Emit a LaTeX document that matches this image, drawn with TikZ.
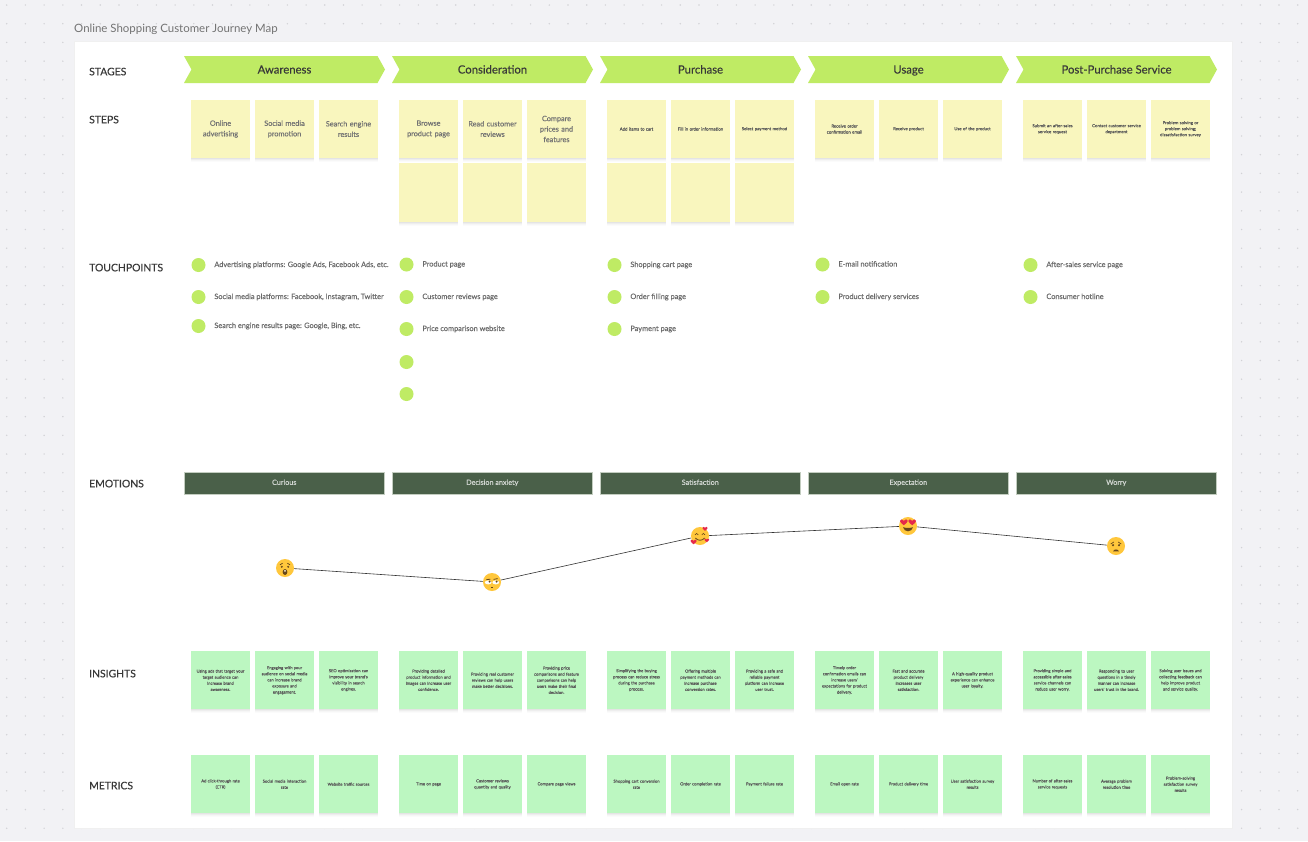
\documentclass[tikz,border=0pt]{standalone}
\usepackage{fontspec}
\setmainfont{Lato}
\newfontfamily\medfont{Lato}[FakeBold=0.3]
\newfontfamily\tinyfont{Lato}[FakeBold=0.15]
\usepackage{xcolor}
\usetikzlibrary{positioning}
\usetikzlibrary{shapes.symbols}

\definecolor{paper}{HTML}{F2F2F5}
\definecolor{griddot}{HTML}{D2D2D6}
\definecolor{lime}{HTML}{BFEB64}
\definecolor{noteyellow}{HTML}{F9F6BE}
\definecolor{notegreen}{HTML}{BCF7C1}
\definecolor{darkmoss}{HTML}{4A6049}
\definecolor{mossedge}{HTML}{C3CDC0}
\definecolor{face}{HTML}{FFC73C}
\definecolor{heartred}{HTML}{E5294A}
\definecolor{facedark}{HTML}{66471B}
\definecolor{inkgray}{HTML}{5C5C5C}

\newcommand{\fsz}[1]{\fontsize{#1}{14}\selectfont}

\tikzset{
    heart/.pic={
        \fill[heartred] (0,1.6) .. controls (-1,0.7) and (-2.4,-0.2) .. (-2.4,-1)
            .. controls (-2.4,-2.2) and (-0.6,-2.4) .. (0,-1.1)
            .. controls (0.6,-2.4) and (2.4,-2.2) .. (2.4,-1)
            .. controls (2.4,-0.2) and (1,0.7) .. (0,1.6) -- cycle;
    },
    facesurprised/.pic={
        \fill[facedark] (-3.2,-1.2) circle (1.1) (3.2,-1.2) circle (1.1);
        \draw[facedark,line width=.7] (-5,-3.2) -- (-2.4,-4.8) (5,-3.2) -- (2.4,-4.8);
        \fill[facedark] (0,4) ellipse (2.4 and 3);
        \fill[white!85!face] (0,2.9) ellipse (1.1 and .9);
    },
    facesmug/.pic={
        \fill[white] (-3.8,.4) ellipse (3.4 and 2) (3.8,.4) ellipse (3.4 and 2);
        \fill[facedark] (-2.4,-.4) circle (1.1) (4.6,-.4) circle (1.1);
        \draw[facedark,line width=.8] (-5.6,-2.4) -- (-1.6,-2.8) (5.6,-3.4) -- (1.6,-2.6);
        \draw[facedark,line width=.5] (-1.2,5.4) -- (1.2,5.4);
    },
    facesmiling/.pic={
        \draw[facedark,line width=.6] (-5,-1.2) .. controls (-4,-3) and (-2.8,-3) .. (-1.8,-1.2);
        \draw[facedark,line width=.6] (1.8,-1.2) .. controls (2.8,-3) and (4,-3) .. (5,-1.2);
        \draw[facedark,line width=.8] (-4.6,2) .. controls (-2,5) and (2,5) .. (4.6,2);
        \pic[scale=1.1] at (5,-7) {heart};
        \pic[scale=1.3] at (-6.4,6.2) {heart};
        \pic[scale=1] at (6.8,4.6) {heart};
    },
    faceeyes/.pic={
        \fill[facedark] (-5,1.2) .. controls (-2,2.2) and (2,2.2) .. (5,1.2)
            .. controls (4,6.6) and (-4,6.6) .. (-5,1.2) -- cycle;
        \pic[scale=1.65] at (-4.2,-3.4) {heart};
        \pic[scale=1.65] at (4.2,-3.4) {heart};
    },
    faceworried/.pic={
        \fill[facedark] (-3,-.8) circle (1.2) (3,-.8) circle (1.2);
        \draw[facedark,line width=.7] (-5.2,-2) -- (-2.2,-4) (5.2,-2) -- (2.2,-4);
        \fill[facedark] (-3,5.4) .. controls (-2,2.8) and (2,2.8) .. (3,5.4) -- cycle;
    }
}

\begin{document}
\begin{tikzpicture}[x=1pt,y=-1pt]
    \tikzstyle{panel}=[fill=white, draw=black!6, line width=.5pt]
    \tikzstyle{rowlabel}=[anchor=west, inner sep=0pt, text height=7.6pt, text depth=0pt,
        text=black!78, font=\medfont\fsz{10.4}]
    \tikzstyle{stage}=[signal, signal to=east, signal from=west, signal pointer angle=122,
        fill=lime, inner sep=0pt, outer sep=0pt, minimum width=201pt, minimum height=27pt,
        text height=9.4pt, text depth=1.4pt, text=black!78, font=\medfont\fsz{11.3}]
    \tikzstyle{emotion}=[fill=darkmoss, draw=mossedge, line width=.5pt, inner sep=0pt,
        minimum width=200.5pt, minimum height=21.5pt, text height=5.2pt, text depth=1.5pt,
        text=white!75!darkmoss, font=\medfont\fsz{7.2}]
    \tikzstyle{sticky}=[minimum width=59pt, minimum height=58.5pt, inner sep=2pt, text width=55pt,
        align=center,
        preaction={fill=black, opacity=.015, transform canvas={yshift=-4pt}},
        preaction={fill=black, opacity=.02, transform canvas={yshift=-3pt}},
        preaction={fill=black, opacity=.03, transform canvas={yshift=-2pt}},
        preaction={fill=black, opacity=.04, transform canvas={yshift=-1pt}}]
    \tikzstyle{yellownote}=[sticky, fill=noteyellow]
    \tikzstyle{greennote}=[sticky, fill=notegreen]
    \tikzstyle{bigtext}=[text=black!55, font=\medfont\fontsize{7.3}{10.5}\selectfont]
    \tikzstyle{steptext}=[text=black!65, font=\tinyfont\fontsize{4.3}{6}\selectfont]
    \tikzstyle{tinytext}=[text=black!65, font=\tinyfont\fontsize{4.1}{6.1}\selectfont]
    \tikzstyle{bullet}=[circle, fill=lime, inner sep=0pt, minimum size=14pt]
    \tikzstyle{bullettext}=[anchor=west, inner sep=0pt, text height=5.6pt, text depth=1.6pt,
        text=black!58, font=\tinyfont\fsz{7.35}]
    \tikzstyle{emoji}=[circle, fill=face, inner sep=0pt, minimum size=18pt]

    \useasboundingbox (0,0) rectangle (1308,841);
    \fill[paper] (0,0) rectangle (1308,841);
    \foreach \i in {0,...,69}
        \foreach \j in {0,...,44}
            \fill[griddot] (6.7+18.71*\i,5+18.71*\j) circle (.8);
    \draw[panel] (74,41) rectangle (1232,828);

    \node[anchor=west, inner sep=0pt, text=black!55, font=\fsz{11.45}] (title) at (74,29.5)
        {Online Shopping Customer Journey Map};

    \node[rowlabel] (stagesrow) at (89,71.5) {STAGES};
    \node[rowlabel] (stepsrow) at (89,119.5) {STEPS};
    \node[rowlabel] (touchrow) at (89,267.5) {TOUCHPOINTS};
    \node[rowlabel] (emotionsrow) at (89,483.5) {EMOTIONS};
    \node[rowlabel] (insightsrow) at (89,673.5) {INSIGHTS};
    \node[rowlabel] (metricsrow) at (89,785.5) {METRICS};

    % stages and emotions
    \foreach \n/\x/\stagetext/\emotext in {
        1/284.5/Awareness/Curious,
        2/492.5/Consideration/Decision anxiety,
        3/700.5/Purchase/Satisfaction,
        4/908.5/Usage/Expectation,
        5/1116.5/Post-Purchase Service/Worry}
    {
        \node[stage] (stage\n) at (\x,69.5) {\stagetext};
        \node[emotion] (emotion\n) at (\x-.25,483) {\emotext};
    }

    % steps
    \foreach \n/\x/\txt in {
        1/220.5/{Online\\advertising},
        2/284.5/{Social media\\promotion},
        3/348.5/{Search engine\\results},
        4/428.5/{Browse\\product page},
        5/492.5/{Read customer\\reviews},
        6/556.5/{Compare\\prices and\\features}}
        \node[yellownote, bigtext] (step\n) at (\x,129) {\txt};
    \foreach \n/\x/\txt in {
        7/636.5/{Add items to cart},
        8/700.5/{Fill in order information},
        9/764.5/{Select payment method},
        10/844.5/{Receive order\\confirmation email},
        11/908.5/{Receive product},
        12/972.5/{Use of the product},
        13/1052.5/{Submit an after-sales\\service request},
        14/1116.5/{Contact customer service\\department},
        15/1180.5/{Problem solving or\\problem solving;\\dissatisfaction survey}}
        \node[yellownote, steptext] (step\n) at (\x,129) {\txt};
    \foreach \n/\x in {1/428.5,2/492.5,3/556.5,4/636.5,5/700.5,6/764.5}
        \node[yellownote] (blank\n) at (\x,192.5) {};

    % touchpoints
    \foreach \n/\x/\y/\txt in {
        1/198.5/265/{Advertising platforms: Google Ads, Facebook Ads, etc.},
        2/198.5/297/{Social media platforms: Facebook, Instagram, Twitter},
        3/198.5/326/{Search engine results page: Google, Bing, etc.},
        4/406.5/264.5/{Product page},
        5/406.5/297/{Customer reviews page},
        6/406.5/329/{Price comparison website},
        7/406.5/362/{},
        8/406.5/394/{},
        9/614.5/265/{Shopping cart page},
        10/614.5/297/{Order filling page},
        11/614.5/329/{Payment page},
        12/822.5/264.5/{E-mail notification},
        13/822.5/297/{Product delivery services},
        14/1030.5/265/{After-sales service page},
        15/1030.5/297/{Consumer hotline}}
    {
        \node[bullet] (dot\n) at (\x,\y) {};
        \node[bullettext, right=8.5pt of dot\n] (touch\n) {\txt};
    }

    % emotion curve
    \node[emoji] (curious) at (285,568) {};
    \node[emoji] (anxious) at (492,582) {};
    \node[emoji] (satisfied) at (700,536) {};
    \node[emoji] (expecting) at (908,526) {};
    \node[emoji] (worried) at (1116,546) {};
    \path[draw=black!80, line width=.6pt]
        (curious) edge (anxious)
        (anxious) edge (satisfied)
        (satisfied) edge (expecting)
        (expecting) edge (worried)
    ;
    \pic at (curious) {facesurprised};
    \pic at (anxious) {facesmug};
    \pic at (satisfied) {facesmiling};
    \pic at (expecting) {faceeyes};
    \pic at (worried) {faceworried};

    % insights
    \foreach \n/\x/\txt in {
        1/220.5/{Using ads that target your\\target audience can\\increase brand\\awareness.},
        2/284.5/{Engaging with your\\audience on social media\\can increase brand\\exposure and\\engagement.},
        3/348.5/{SEO optimization can\\improve your brand's\\visibility in search\\engines.},
        4/428.5/{Providing detailed\\product information and\\images can increase user\\confidence.},
        5/492.5/{Providing real customer\\reviews can help users\\make better decisions.},
        6/556.5/{Providing price\\comparisons and feature\\comparisons can help\\users make their final\\decision.},
        7/636.5/{Simplifying the buying\\process can reduce stress\\during the purchase\\process.},
        8/700.5/{Offering multiple\\payment methods can\\increase purchase\\conversion rates.},
        9/764.5/{Providing a safe and\\reliable payment\\platform can increase\\user trust.},
        10/844.5/{Timely order\\confirmation emails can\\increase users'\\expectations for product\\delivery.},
        11/908.5/{Fast and accurate\\product delivery\\increases user\\satisfaction.},
        12/972.5/{A high-quality product\\experience can enhance\\user loyalty.},
        13/1052.5/{Providing simple and\\accessible after-sales\\service channels can\\reduce user worry.},
        14/1116.5/{Responding to user\\questions in a timely\\manner can increase\\users' trust in the brand.},
        15/1180.5/{Solving user issues and\\collecting feedback can\\help improve product\\and service quality.}}
        \node[greennote, tinytext] (insight\n) at (\x,680.2) {\txt};

    % metrics
    \foreach \n/\x/\txt in {
        1/220.5/{Ad click-through rate\\(CTR)},
        2/284.5/{Social media interaction\\rate},
        3/348.5/{Website traffic sources},
        4/428.5/{Time on page},
        5/492.5/{Customer reviews\\quantity and quality},
        6/556.5/{Compare page views},
        7/636.5/{Shopping cart conversion\\rate},
        8/700.5/{Order completion rate},
        9/764.5/{Payment failure rate},
        10/844.5/{Email open rate},
        11/908.5/{Product delivery time},
        12/972.5/{User satisfaction survey\\results},
        13/1052.5/{Number of after-sales\\service requests},
        14/1116.5/{Average problem\\resolution time},
        15/1180.5/{Problem-solving\\satisfaction survey\\results}}
        \node[greennote, tinytext] (metric\n) at (\x,784.2) {\txt};
\end{tikzpicture}
\end{document}
